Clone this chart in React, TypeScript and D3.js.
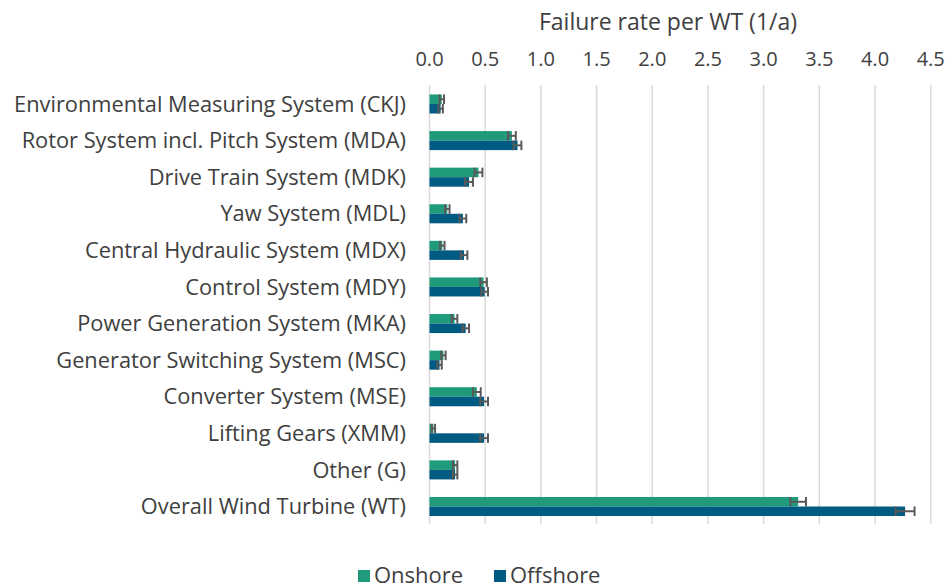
import React, { useEffect, useRef } from 'react';
import * as d3 from 'd3';

const categories = [
  'Environmental Measuring System (CKJ)',
  'Rotor System incl. Pitch System (MDA)',
  'Drive Train System (MDK)',
  'Yaw System (MDL)',
  'Central Hydraulic System (MDX)',
  'Control System (MDY)',
  'Power Generation System (MKA)',
  'Generator Switching System (MSC)',
  'Converter System (MSE)',
  'Lifting Gears (XMM)',
  'Other (G)',
  'Overall Wind Turbine (WT)',
];

const onshore = [0.11, 0.74, 0.44, 0.16, 0.115, 0.485, 0.225, 0.125, 0.425, 0.035, 0.23, 3.31];
const onshoreErr = [0.02, 0.035, 0.035, 0.02, 0.02, 0.03, 0.025, 0.02, 0.035, 0.015, 0.02, 0.07];
const offshore = [0.1, 0.79, 0.355, 0.3, 0.31, 0.495, 0.325, 0.09, 0.49, 0.49, 0.23, 4.27];
const offshoreErr = [0.02, 0.035, 0.035, 0.03, 0.03, 0.03, 0.03, 0.02, 0.035, 0.035, 0.02, 0.085];

const xTicks = [0, 0.5, 1, 1.5, 2, 2.5, 3, 3.5, 4, 4.5];

const seriesNames = ['Onshore', 'Offshore'];
const colors = ['#1f9b7b', '#005b82'];

const FONT = '"Open Sans", "Noto Sans", sans-serif';
const TEXT = '#404040';

const App: React.FC = () => {
  const svgRef = useRef<SVGSVGElement>(null);

  useEffect(() => {
    if (!svgRef.current) return;
    const svg = d3.select(svgRef.current);
    svg.selectAll('*').remove();

    const x = d3.scaleLinear().domain([0, 4.5]).range([429.5, 930.7]);
    const y = d3
      .scaleBand()
      .domain(categories)
      .range([85.7, 524.8])
      .paddingInner(0.48)
      .paddingOuter(0.24);
    const sub = d3
      .scaleBand()
      .domain(seriesNames)
      .range([0, y.bandwidth()]);

    // gridlines
    svg
      .append('g')
      .selectAll('line')
      .data(xTicks)
      .enter()
      .append('line')
      .attr('x1', (d) => x(d))
      .attr('x2', (d) => x(d))
      .attr('y1', 85)
      .attr('y2', 524)
      .attr('stroke', '#d9d9d9')
      .attr('stroke-width', 1.5);

    // axis title + tick labels
    svg
      .append('text')
      .attr('x', 668)
      .attr('y', 30)
      .attr('text-anchor', 'middle')
      .attr('font-family', FONT)
      .attr('font-size', 23)
      .attr('fill', TEXT)
      .text('Failure rate per WT (1/a)');

    svg
      .append('g')
      .selectAll('text')
      .data(xTicks)
      .enter()
      .append('text')
      .attr('x', (d) => x(d))
      .attr('y', 66)
      .attr('text-anchor', 'middle')
      .attr('font-family', FONT)
      .attr('font-size', 20)
      .attr('fill', TEXT)
      .text((d) => d3.format('.1f')(d));

    // category labels
    svg
      .append('g')
      .selectAll('text')
      .data(categories)
      .enter()
      .append('text')
      .attr('x', 406)
      .attr('y', (d) => (y(d) || 0) + y.bandwidth() / 2)
      .attr('dy', '0.35em')
      .attr('text-anchor', 'end')
      .attr('font-family', FONT)
      .attr('font-size', 21.8)
      .attr('fill', TEXT)
      .text((d) => d);

    const series = [
      { name: 'Onshore', values: onshore, errs: onshoreErr, color: colors[0] },
      { name: 'Offshore', values: offshore, errs: offshoreErr, color: colors[1] },
    ];

    series.forEach((s) => {
      const rows = categories.map((c, i) => ({ c, v: s.values[i], e: s.errs[i] }));
      const g = svg.append('g');
      g.selectAll('rect')
        .data(rows)
        .enter()
        .append('rect')
        .attr('x', x(0))
        .attr('y', (d) => (y(d.c) || 0) + (sub(s.name) || 0))
        .attr('width', (d) => x(d.v) - x(0))
        .attr('height', sub.bandwidth())
        .attr('fill', s.color);

      // error bars
      const eg = svg.append('g').attr('stroke', '#595959').attr('stroke-width', 2);
      rows.forEach((d) => {
        const top = (y(d.c) || 0) + (sub(s.name) || 0);
        const mid = top + sub.bandwidth() / 2;
        const lo = x(d.v - d.e);
        const hi = x(d.v + d.e);
        eg.append('line').attr('x1', lo).attr('x2', hi).attr('y1', mid).attr('y2', mid);
        eg.append('line').attr('x1', lo).attr('x2', lo).attr('y1', top).attr('y2', top + sub.bandwidth());
        eg.append('line').attr('x1', hi).attr('x2', hi).attr('y1', top).attr('y2', top + sub.bandwidth());
      });
    });

    // legend
    const legend = svg.append('g');
    const legendX = [358, 494];
    seriesNames.forEach((n, i) => {
      legend
        .append('rect')
        .attr('x', legendX[i])
        .attr('y', 570)
        .attr('width', 12)
        .attr('height', 12)
        .attr('fill', colors[i]);
      legend
        .append('text')
        .attr('x', legendX[i] + 16)
        .attr('y', 575)
        .attr('dy', '0.35em')
        .attr('font-family', FONT)
        .attr('font-size', 22)
        .attr('fill', TEXT)
        .text(n);
    });
  }, []);

  return (
    <svg
      ref={svgRef}
      width={947}
      height={588}
      style={{ position: 'absolute', left: 0, top: 0, background: '#fff' }}
    ></svg>
  );
};

export default App;
